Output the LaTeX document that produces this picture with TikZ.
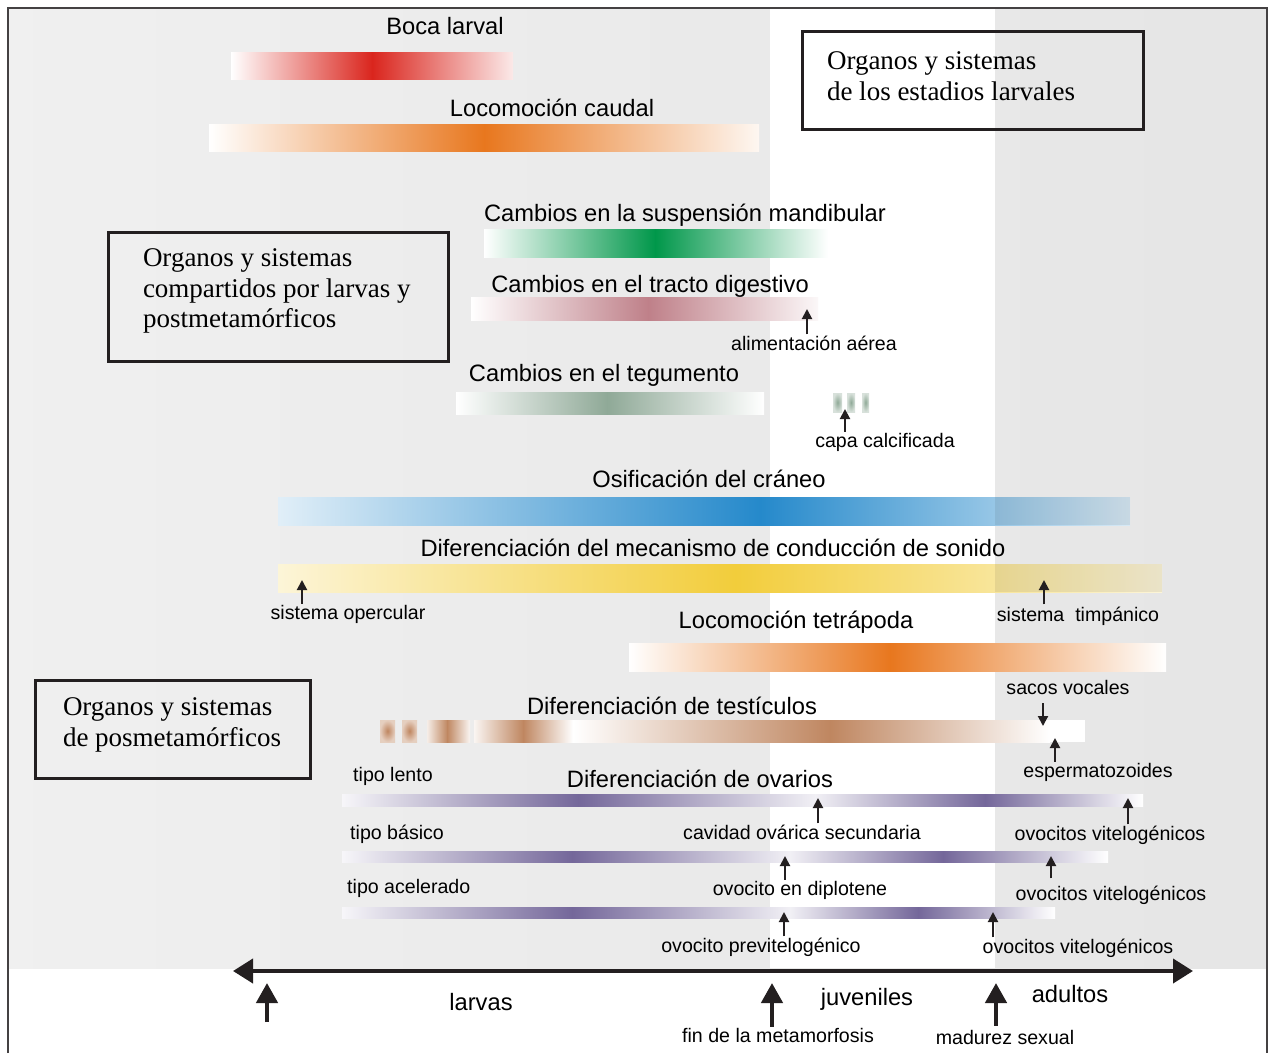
\documentclass[tikz,border=0pt]{standalone}
\usepackage{fontspec}
\setmainfont{Liberation Serif}
\setsansfont{Liberation Sans}
\usepackage{xcolor}
\usepackage{tikz}
\usetikzlibrary{arrows.meta}

\definecolor{rojo}{HTML}{DA251D}
\definecolor{naranja}{HTML}{E8771E}
\definecolor{verde}{HTML}{00974A}
\definecolor{rosa}{HTML}{BF8089}
\definecolor{salvia}{HTML}{8FA997}
\definecolor{azul}{HTML}{2589CB}
\definecolor{amarillo}{HTML}{F2CD3B}
\definecolor{marron}{HTML}{BF8660}
\definecolor{morado}{HTML}{74679A}
\definecolor{marco}{HTML}{231F20}

\begin{document}
\begin{tikzpicture}[x=1pt, y=-1pt,
  etiqueta/.style={font=\sffamily\fontsize{23.7}{28}\selectfont, inner sep=0pt, anchor=base},
  nota/.style={font=\sffamily\fontsize{19.6}{23}\selectfont, inner sep=1pt, anchor=base},
  grupo/.style={draw=marco, line width=3pt, align=flush left,
                font=\rmfamily\fontsize{27}{30.5}\selectfont},
  ptr/.style={-{Triangle[length=10pt,width=10pt]}, line width=2pt, draw=marco},
  hito/.style={-{Triangle[length=20pt,width=21pt]}, line width=4.5pt, draw=marco},
  eje/.style={{Triangle[length=20pt,width=24pt]}-{Triangle[length=20pt,width=24pt]},
              line width=4pt, draw=marco}
]
\useasboundingbox (0,0) rectangle (1270,1053);

% fondo
\shade[left color=black!6, right color=black!10] (8,8) rectangle (1267,968);
\fill[white] (770,8) rectangle (995,968);
\draw[line width=2pt, marco!85] (8,1053) -- (8,8) -- (1267,8) -- (1267,1053);

% organos larvales
\shade[left color=white, right color=rojo] (231,52) rectangle (372.5,79);
\shade[left color=rojo, right color=rojo!10] (372,52) rectangle (513,79);
\node[etiqueta] (boca) at (445,34) {Boca larval};

\shade[left color=white, right color=naranja] (209,124) rectangle (484.5,151);
\shade[left color=naranja, right color=naranja!6] (484,124) rectangle (759,151);
\node[etiqueta] (caudal) at (552,116) {Locomoción caudal};

\node[grupo, minimum width=341pt, minimum height=98pt, inner xsep=25pt, text width=291pt]
  (larvales) at (972.5,80) {Organos y sistemas\\de los estadios larvales\rule[-8pt]{0pt}{8pt}};

% organos compartidos
\shade[left color=white, right color=verde] (484,229) rectangle (655.5,257);
\shade[left color=verde, right color=white] (655,229) rectangle (828,257);
\node[etiqueta] (mandibular) at (685,221) {Cambios en la suspensión mandibular};

\shade[left color=white, right color=rosa] (471,297) rectangle (648.5,320);
\shade[left color=rosa, right color=rosa!6] (648,297) rectangle (818,320);
\node[etiqueta] (digestivo) at (650,292) {Cambios en el tracto digestivo};
\node[nota] (alim) at (814,350) {alimentación aérea};
\coordinate (alimtip) at (807,309);
\draw[ptr] (alimtip |- alim.north) -- (alimtip);

\shade[left color=white, right color=salvia] (456,392) rectangle (607.5,414);
\shade[left color=salvia, right color=white] (607,392) rectangle (764,414);
\node[etiqueta] (tegumento) at (604,381) {Cambios en el tegumento};
\shade[inner color=salvia, outer color=salvia!35] (833,393) rectangle (842,412);
\shade[inner color=salvia, outer color=salvia!35] (847,393) rectangle (855,412);
\shade[inner color=salvia, outer color=salvia!35] (862,393) rectangle (869,412);
\node[nota] (capa) at (885,447) {capa calcificada};
\coordinate (capatip) at (845,409);
\draw[ptr] (capatip |- capa.north) -- (capatip);

\node[grupo, minimum width=340pt, minimum height=129pt, inner xsep=35pt, text width=270pt]
  (compartidos) at (278,296.5)
  {Organos y sistemas\\compartidos por larvas y\\postmetamórficos\rule[-16pt]{0pt}{16pt}};

\shade[left color=azul!14, right color=azul] (278,497) rectangle (760.5,525);
\shade[left color=azul, right color=azul!18] (760,497) rectangle (1130,525);
\fill[black, opacity=0.07] (995,497) rectangle (1130,525);
\node[etiqueta] (craneo) at (709,487) {Osificación del cráneo};

\shade[left color=amarillo!20, right color=amarillo] (278,564) rectangle (735.5,592);
\shade[left color=amarillo, right color=amarillo!20] (735,564) rectangle (1162,592);
\fill[black, opacity=0.07] (995,564) rectangle (1162,592);
\node[etiqueta] (sonido) at (713,556) {Diferenciación del mecanismo de conducción de sonido};
\node[nota] (opercular) at (348,619) {sistema opercular};
\node[nota] (timpanico) at (1078,621) {sistema\ \ timpánico};
\coordinate (opertip) at (302,580);
\coordinate (timptip) at (1044,580);
\draw[ptr] (opertip |- opercular.north) -- (opertip);
\draw[ptr] ([yshift=1pt]timptip |- timpanico.north) -- (timptip);

% organos posmetamorficos
\shade[left color=white, right color=naranja] (629,643) rectangle (890.5,671);
\shade[left color=naranja, right color=white] (890,643) rectangle (1166,671);
\node[etiqueta] (tetrapoda) at (796,628) {Locomoción tetrápoda};

\node[grupo, minimum width=275pt, minimum height=98pt, inner xsep=28pt, text width=219pt]
  (posmeta) at (172.5,729) {Organos y sistemas\\de posmetamórficos\rule[-14pt]{0pt}{14pt}};

\shade[inner color=marron, outer color=marron!40] (380,720) rectangle (395,742);
\shade[inner color=marron, outer color=marron!40] (402,720) rectangle (417,742);
\shade[left color=marron!15, right color=marron] (427,720) rectangle (447.5,742);
\shade[left color=marron, right color=marron!8] (447,720) rectangle (470,742);
\shade[left color=marron!8, right color=marron] (474,720) rectangle (523.5,742);
\shade[left color=marron, right color=white] (523,720) rectangle (573,742);
\shade[left color=white, right color=marron] (573,720) rectangle (830.5,742);
\shade[left color=marron, right color=white] (830,720) rectangle (1050,742);
\fill[white] (1049.5,720) rectangle (1085,742);
\node[etiqueta] (testiculos) at (672,714) {Diferenciación de testículos};
\node[nota] (sacos) at (1068,694) {sacos vocales};
\node[nota] (esperma) at (1098,777) {espermatozoides};
\coordinate (sacostip) at (1043,726);
\coordinate (espermatip) at (1055,738);
\draw[ptr] ([yshift=-8pt]sacostip |- sacos.south) -- (sacostip);
\draw[ptr] (espermatip |- esperma.north) -- (espermatip);

\shade[left color=morado!6, right color=morado] (342,794) rectangle (578.5,806);
\shade[left color=morado, right color=morado!10] (578,794) rectangle (815.5,806);
\shade[left color=morado!10, right color=morado] (815,794) rectangle (985.5,806);
\shade[left color=morado, right color=white] (985,794) rectangle (1143,806);
\node[etiqueta] (ovarios) at (700,787) {Diferenciación de ovarios};
\node[nota, anchor=base west] (lento) at (352,781) {tipo lento};
\node[nota] (cavidad) at (802,839) {cavidad ovárica secundaria};
\node[nota] (vit1) at (1110,840) {ovocitos vitelogénicos};
\coordinate (cavidadtip) at (818,798);
\coordinate (vit1tip) at (1128,798);
\draw[ptr] (cavidadtip |- cavidad.north) -- (cavidadtip);
\draw[ptr] (vit1tip |- vit1.north) -- (vit1tip);

\shade[left color=morado!6, right color=morado] (342,851) rectangle (572.5,862);
\shade[left color=morado, right color=morado!10] (572,851) rectangle (790.5,862);
\shade[left color=morado!10, right color=morado] (790,851) rectangle (943.5,862);
\shade[left color=morado, right color=white] (943,851) rectangle (1108,862);
\node[nota, anchor=base west] (basico) at (349,839) {tipo básico};
\node[nota] (diplotene) at (800,895) {ovocito en diplotene};
\node[nota] (vit2) at (1111,900) {ovocitos vitelogénicos};
\coordinate (diplotip) at (785,856);
\coordinate (vit2tip) at (1051,856);
\draw[ptr] (diplotip |- diplotene.north) -- (diplotip);
\draw[ptr, shorten <=6pt] (vit2tip |- vit2.north) -- (vit2tip);

\shade[left color=morado!6, right color=morado] (342,907) rectangle (572.5,918);
\shade[left color=morado, right color=morado!10] (572,907) rectangle (790.5,918);
\shade[left color=morado!10, right color=morado] (790,907) rectangle (918.5,918);
\shade[left color=morado, right color=white] (918,907) rectangle (1055,918);
\node[nota, anchor=base west] (acelerado) at (346,893) {tipo acelerado};
\node[nota] (previt) at (761,952) {ovocito previtelogénico};
\node[nota] (vit3) at (1078,953) {ovocitos vitelogénicos};
\coordinate (previttip) at (784,912);
\coordinate (vit3tip) at (993,912);
\draw[ptr] (previttip |- previt.north) -- (previttip);
\draw[ptr] (vit3tip |- vit3.north) -- (vit3tip);

% eje del ciclo de vida
\coordinate (izq) at (233,971);
\coordinate (der) at (1193,971);
\draw[eje] (izq) -- (der);
\node[etiqueta] (larvas) at (481,1010) {larvas};
\node[etiqueta] (juveniles) at (867,1005) {juveniles};
\node[etiqueta] (adultos) at (1070,1002) {adultos};
\node[nota] (fin) at (778,1042) {fin de la metamorfosis};
\node[nota] (madurez) at (1005,1044) {madurez sexual};
\coordinate (iniciobase) at (267,1022);
\coordinate (inicio) at (267,983);
\coordinate (metam) at (772,983);
\coordinate (sexual) at (996,983);
\draw[hito] (iniciobase) -- (inicio);
\draw[hito] (metam |- fin.north) -- (metam);
\draw[hito, shorten <=3pt] (sexual |- madurez.north) -- (sexual);
\end{tikzpicture}
\end{document}
